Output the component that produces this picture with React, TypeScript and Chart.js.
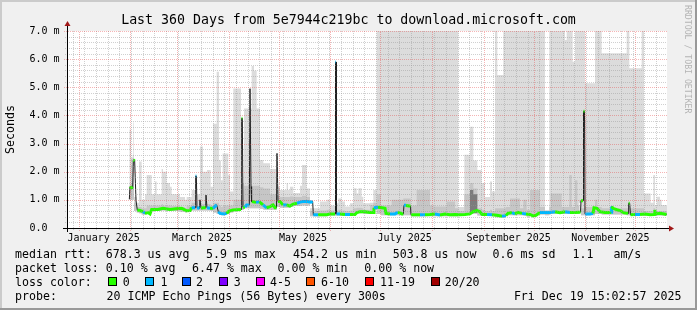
import React, { useEffect, useRef } from 'react';
import { Chart, registerables } from 'chart.js';

Chart.register(...registerables);

const FONT = '"DejaVu Sans Mono", "Liberation Mono", monospace';

const titleText = 'Last 360 Days from 5e7944c219bc to download.microsoft.com';
const yAxisTitle = 'Seconds';
const watermark = 'RRDTOOL / TOBI OETIKER';

// x axis: days since graph start (Dec 24 2024 15:02), 0..360
const monthStartDays = [6.9, 37.9, 65.9, 96.9, 126.9, 157.9, 187.9, 218.9, 249.9, 279.9, 310.9, 340.9];
const weekGridStart = 3.4;
const monthLabelDays = [22.0, 81.0, 141.6, 202.6, 265.0, 326.0];
const monthLabels = ['January 2025', 'March 2025', 'May 2025', 'July 2025', 'September 2025', 'November 2025'];
const yTickValues = [0, 1, 2, 3, 4, 5, 6, 7];
const yTickLabels = ['0.0  ', '1.0 m', '2.0 m', '3.0 m', '4.0 m', '5.0 m', '6.0 m', '7.0 m'];

// median rtt (ms) and loss class per sample
const medDays = [
  37.4, 37.8, 39.4, 39.8, 40.6, 41.4, 41.8, 42.2, 43.8, 45.6,
  46.8, 48.6, 49.8, 50.8, 54.6, 57.6, 61.8, 65.4, 68.8, 71.8,
  73.8, 74.8, 76.8, 77.2, 77.6, 78.0, 79.5, 79.8, 80.1, 80.4,
  81.6, 83.2, 83.4, 83.8, 84.0, 85.8, 87.6, 89.8, 90.8, 91.8,
  94.2, 95.8, 97.2, 99.6, 104.4, 104.8, 105.2, 105.6, 106.8, 107.8,
  109.4, 109.8, 110.1, 110.4, 110.6, 110.9, 113.4, 115.4, 116.4, 117.6,
  119.8, 121.8, 123.6, 124.8, 125.7, 126.0, 126.3, 126.6, 127.8, 129.6,
  131.8, 133.8, 135.6, 138.0, 139.8, 141.6, 144.0, 146.4, 147.4, 147.8,
  150.6, 153.0, 156.0, 157.8, 160.8, 161.1, 161.4, 161.7, 163.8, 166.8,
  169.8, 172.8, 174.0, 175.8, 178.8, 181.8, 183.8, 184.2, 186.6, 189.0,
  190.8, 191.4, 193.8, 196.8, 198.6, 201.0, 201.8, 202.2, 203.4, 205.2,
  206.1, 206.4, 208.8, 211.8, 214.8, 217.8, 220.8, 223.8, 226.8, 229.8,
  232.8, 235.8, 238.8, 241.8, 243.6, 246.0, 247.8, 249.0, 252.0, 255.0,
  258.0, 261.0, 263.4, 264.6, 267.0, 268.8, 270.6, 273.0, 275.4, 277.8,
  279.6, 281.4, 283.8, 286.8, 289.8, 292.8, 295.8, 298.8, 301.8, 304.8,
  307.2, 308.1, 308.4, 309.6, 309.9, 310.5, 310.8, 313.8, 315.6, 316.2,
  318.0, 319.8, 322.8, 325.8, 326.6, 326.8, 327.6, 330.0, 331.8, 334.2,
  336.6, 337.0, 337.6, 338.1, 340.8, 343.8, 346.8, 349.8, 352.2, 352.7,
  353.1, 355.8, 358.2, 359.7,
];
const medVals = [
  1.02, 1.47, 1.40, 2.42, 2.39, 0.97, 0.97, 0.64, 0.62, 0.58,
  0.52, 0.55, 0.50, 0.66, 0.66, 0.70, 0.66, 0.68, 0.70, 0.61,
  0.62, 0.72, 0.72, 1.85, 1.85, 0.72, 0.70, 1.00, 1.00, 0.70,
  0.72, 0.72, 1.17, 1.17, 0.72, 0.70, 0.70, 0.82, 0.58, 0.52,
  0.50, 0.52, 0.60, 0.64, 0.66, 3.90, 3.90, 0.74, 0.74, 0.82,
  0.82, 4.95, 4.95, 1.47, 1.47, 0.94, 0.91, 0.93, 0.88, 0.82,
  0.72, 0.76, 0.82, 0.72, 0.72, 2.65, 2.65, 0.94, 0.94, 0.82,
  0.82, 0.78, 0.85, 0.88, 0.92, 0.94, 0.94, 0.92, 0.94, 0.47,
  0.47, 0.47, 0.47, 0.50, 0.50, 5.90, 5.90, 0.50, 0.50, 0.48,
  0.48, 0.48, 0.55, 0.58, 0.58, 0.55, 0.55, 0.72, 0.74, 0.72,
  0.70, 0.52, 0.50, 0.50, 0.56, 0.50, 0.50, 0.82, 0.80, 0.78,
  0.78, 0.47, 0.47, 0.47, 0.47, 0.48, 0.50, 0.46, 0.50, 0.47,
  0.48, 0.47, 0.48, 0.50, 0.58, 0.62, 0.58, 0.48, 0.48, 0.47,
  0.45, 0.42, 0.44, 0.52, 0.55, 0.50, 0.56, 0.52, 0.50, 0.48,
  0.43, 0.45, 0.55, 0.55, 0.55, 0.58, 0.54, 0.58, 0.55, 0.55,
  0.56, 0.56, 0.97, 0.97, 4.15, 4.15, 0.50, 0.50, 0.52, 0.72,
  0.70, 0.58, 0.55, 0.55, 0.56, 0.76, 0.70, 0.65, 0.62, 0.54,
  0.52, 0.88, 0.88, 0.47, 0.48, 0.48, 0.50, 0.47, 0.48, 0.64,
  0.50, 0.52, 0.50, 0.48,
];
const medLoss = [
  0, 0, 0, 0, 0, 0, 0, 0, 0, 0,
  1, 0, 0, 0, 0, 0, 0, 0, 0, 0,
  0, 0, 1, 1, 1, 1, 1, 0, 0, 0,
  0, 0, 0, 0, 1, 1, 0, 1, 1, 1,
  1, 1, 0, 0, 0, 0, 0, 0, 0, 1,
  1, 0, 0, 0, 0, 0, 0, 1, 0, 0,
  1, 0, 0, 0, 0, 1, 1, 0, 0, 0,
  1, 0, 0, 0, 1, 1, 1, 1, 1, 1,
  1, 0, 0, 0, 0, 1, 1, 1, 1, 0,
  1, 0, 0, 0, 0, 0, 0, 0, 1, 0,
  0, 0, 0, 1, 1, 0, 0, 0, 1, 0,
  0, 1, 0, 0, 1, 0, 0, 1, 0, 0,
  0, 0, 0, 0, 0, 0, 0, 0, 0, 1,
  0, 0, 1, 0, 0, 1, 0, 0, 1, 0,
  0, 0, 0, 1, 1, 1, 0, 0, 1, 0,
  0, 0, 0, 0, 0, 0, 1, 1, 1, 0,
  0, 0, 0, 0, 0, 1, 0, 0, 0, 0,
  0, 0, 0, 0, 0, 1, 0, 0, 0, 0,
  0, 0, 0, 0,
];

// smoke (spread of the 20 pings): bottom, dense middle and top, in ms
const smokeDays = [
  37.4, 38.4, 39.4, 39.8, 40.2, 41.8, 43.2, 44.8, 46.8, 47.8,
  50.8, 52.8, 53.8, 56.8, 57.6, 59.8, 61.8, 62.8, 67.8, 70.8,
  71.8, 74.8, 76.8, 77.8, 79.8, 81.6, 84.0, 86.2, 87.6, 89.8,
  91.2, 92.4, 93.4, 96.8, 97.8, 99.8, 104.4, 106.2, 110.8, 112.2,
  113.8, 115.8, 117.8, 121.8, 125.8, 127.8, 131.8, 132.6, 133.8, 135.8,
  139.8, 141.0, 143.8, 145.8, 147.8, 151.8, 155.8, 157.8, 160.8, 162.8,
  164.8, 166.8, 169.8, 171.8, 173.8, 174.8, 176.8, 177.8, 181.8, 183.8,
  185.8, 188.4, 194.8, 201.8, 206.2, 209.8, 217.8, 219.8, 227.8, 232.8,
  234.8, 238.4, 241.8, 243.8, 246.2, 248.8, 250.8, 253.8, 255.0, 256.8,
  258.2, 261.8, 263.2, 265.8, 271.8, 273.8, 275.8, 277.8, 283.8, 286.8,
  289.4, 290.2, 296.8, 298.8, 299.8, 301.4, 302.8, 303.4, 304.8, 306.2,
  307.4, 308.4, 310.8, 316.8, 318.2, 320.8, 335.8, 337.4, 344.8, 346.2,
  350.2, 351.8, 352.8, 353.8, 355.8, 356.8, 358.8, 360.0,
];
const smokeLo = [
  0.95, 1.00, 1.00, 1.00, 1.00, 0.60, 0.55, 0.52, 0.48, 0.48,
  0.60, 0.60, 0.60, 0.60, 0.62, 0.62, 0.60, 0.60, 0.60, 0.58,
  0.55, 0.62, 0.62, 0.62, 0.62, 0.62, 0.62, 0.62, 0.60, 0.55,
  0.50, 0.48, 0.45, 0.50, 0.50, 0.55, 0.60, 0.65, 0.70, 0.70,
  0.70, 0.70, 0.68, 0.65, 0.65, 0.75, 0.72, 0.72, 0.72, 0.75,
  0.78, 0.78, 0.80, 0.80, 0.42, 0.42, 0.42, 0.44, 0.44, 0.44,
  0.44, 0.43, 0.43, 0.43, 0.50, 0.52, 0.52, 0.52, 0.50, 0.60,
  0.65, 0.50, 0.45, 0.45, 0.45, 0.42, 0.42, 0.42, 0.42, 0.42,
  0.42, 0.43, 0.50, 0.52, 0.52, 0.44, 0.43, 0.43, 0.43, 0.42,
  0.38, 0.38, 0.38, 0.45, 0.45, 0.45, 0.44, 0.40, 0.48, 0.48,
  0.45, 0.48, 0.50, 0.50, 0.50, 0.50, 0.50, 0.50, 0.50, 0.50,
  0.50, 0.90, 0.45, 0.45, 0.50, 0.50, 0.48, 0.45, 0.45, 0.45,
  0.44, 0.44, 0.44, 0.44, 0.44, 0.44, 0.44, 0.44,
];
const smokeMid = [
  1.10, 1.50, 1.60, 2.50, 2.50, 0.90, 0.75, 0.75, 0.70, 0.70,
  0.80, 0.80, 0.80, 0.80, 0.85, 0.80, 0.80, 0.80, 0.78, 0.75,
  0.70, 0.80, 0.90, 0.85, 0.80, 0.85, 0.85, 0.85, 0.80, 0.90,
  0.90, 0.80, 0.75, 0.80, 0.80, 0.80, 1.00, 0.95, 1.50, 1.50,
  1.50, 1.50, 1.45, 1.40, 1.20, 1.15, 1.10, 1.10, 1.10, 1.12,
  1.10, 1.10, 1.15, 1.10, 0.60, 0.60, 0.62, 0.65, 0.62, 0.62,
  0.65, 0.62, 0.60, 0.62, 0.70, 0.72, 0.72, 0.70, 0.65, 0.82,
  0.90, 1.20, 0.80, 1.00, 1.05, 0.80, 1.35, 0.80, 0.76, 0.94,
  0.70, 0.60, 1.20, 1.60, 1.40, 0.70, 0.65, 0.60, 0.65, 0.60,
  0.70, 0.70, 0.70, 0.75, 1.05, 0.70, 1.00, 0.65, 1.35, 0.75,
  0.60, 0.75, 1.23, 0.75, 0.75, 0.75, 1.88, 0.75, 0.75, 1.70,
  0.80, 1.00, 0.70, 0.75, 1.00, 0.75, 0.70, 0.70, 0.70, 0.70,
  0.60, 0.60, 0.70, 0.60, 0.60, 0.60, 0.60, 0.60,
];
const smokeHi = [
  1.60, 3.50, 2.50, 2.60, 3.75, 1.10, 0.90, 2.36, 1.00, 1.20,
  1.88, 1.20, 1.65, 1.20, 2.10, 2.00, 1.60, 1.47, 1.20, 1.10,
  1.00, 1.10, 1.35, 1.60, 1.20, 2.90, 2.00, 2.06, 1.47, 3.70,
  5.55, 2.40, 1.70, 2.65, 1.88, 1.30, 4.96, 1.60, 4.25, 5.76,
  5.59, 4.25, 2.42, 2.30, 2.10, 1.47, 1.35, 1.59, 1.35, 1.47,
  1.24, 1.50, 2.24, 1.40, 0.70, 0.70, 0.94, 1.00, 0.80, 0.88,
  1.05, 0.94, 0.76, 0.88, 1.41, 1.23, 1.41, 1.11, 0.88, 0.90,
  1.35, 7.50, 7.50, 7.50, 7.50, 7.50, 7.50, 7.50, 7.50, 7.50,
  7.50, 0.75, 2.60, 3.60, 2.40, 2.06, 1.60, 1.10, 1.65, 1.30,
  7.50, 5.44, 7.50, 7.50, 7.50, 7.50, 7.50, 7.50, 7.50, 7.50,
  0.64, 7.50, 7.50, 7.50, 6.68, 7.50, 7.50, 7.50, 5.91, 7.50,
  7.50, 7.50, 7.50, 5.14, 7.50, 7.50, 6.21, 7.50, 5.68, 7.50,
  1.23, 0.90, 1.88, 0.82, 1.11, 1.00, 0.82, 0.82,
];
// dense dark core of the late-August burst
const darkDays = [241.8, 243.8, 246.2, 248.8];
const darkLo = [0.50, 0.52, 0.52, 0.50];
const darkHi = [1.00, 1.35, 1.20, 0.50];

const lossColors = ['#26ff00', '#00b8ff', '#0059ff', '#7e00ff', '#ff00ff', '#ff5500', '#ff0000', '#a10000'];
const lossLabels = ['0', '1', '2', '3', '4-5', '6-10', '11-19', '20/20'];

const medianStats = ['median rtt:  678.3 us avg', '5.9 ms max', '454.2 us min', '503.8 us now', '0.6 ms sd', '1.1', 'am/s'];
const lossStats = ['packet loss: 0.10 % avg', '6.47 % max', '0.00 % min', '0.00 % now'];
const probeText = ['probe:', '20 ICMP Echo Pings (56 Bytes) every 300s'];
const dateText = 'Fri Dec 19 15:02:57 2025';
const lossColorTitle = 'loss color:';

const MINOR = 'rgba(150,150,150,0.45)';
const MAJOR = 'rgba(230,60,60,0.38)';

const decor = {
  id: 'smokepingDecor',
  beforeDraw(chart: any) {
    const { ctx, width, height, chartArea: a } = chart;
    ctx.save();
    ctx.fillStyle = '#f0f0f0';
    ctx.fillRect(0, 0, width, height);
    ctx.fillStyle = '#cbcbcb';
    ctx.fillRect(0, 0, width, 2);
    ctx.fillRect(0, 0, 2, height);
    ctx.fillStyle = '#999999';
    ctx.fillRect(0, height - 2, width, 2);
    ctx.fillRect(width - 2, 0, 2, height);
    ctx.fillStyle = '#ffffff';
    ctx.fillRect(a.left, a.top, a.right - a.left, a.bottom - a.top);
    ctx.restore();
  },
  afterDatasetsDraw(chart: any) {
    const { ctx, chartArea: a, scales } = chart;
    const xs = scales.x;
    const ys = scales.y;
    const L = a.left, R = a.right, T = a.top, B = a.bottom;
    ctx.save();
    ctx.lineWidth = 1;
    ctx.setLineDash([1, 1]);
    ctx.strokeStyle = MINOR;
    ctx.beginPath();
    for (let k = 1; k < 35; k++) {
      if (k % 5 === 0) continue;
      const y = Math.round(ys.getPixelForValue(k / 5)) + 0.5;
      ctx.moveTo(L - 2, y);
      ctx.lineTo(R, y);
    }
    for (let d = weekGridStart; d < 360; d += 7) {
      const x = Math.round(xs.getPixelForValue(d)) + 0.5;
      ctx.moveTo(x, B + 2);
      ctx.lineTo(x, T);
    }
    ctx.stroke();
    ctx.strokeStyle = MAJOR;
    ctx.beginPath();
    for (let v = 1; v <= 7; v++) {
      const y = Math.round(ys.getPixelForValue(v)) + 0.5;
      ctx.moveTo(L - 3, y);
      ctx.lineTo(R, y);
    }
    for (const d of monthStartDays) {
      const x = Math.round(xs.getPixelForValue(d)) + 0.5;
      ctx.moveTo(x, B + 3);
      ctx.lineTo(x, T);
    }
    ctx.stroke();
    ctx.setLineDash([]);
    const ay = Math.round(B) + 0.5;
    const ax = Math.round(L) + 0.5;
    ctx.strokeStyle = '#000000';
    ctx.beginPath();
    ctx.moveTo(L - 4, ay);
    ctx.lineTo(R + 3, ay);
    ctx.moveTo(ax, B + 4);
    ctx.lineTo(ax, T - 6);
    ctx.stroke();
    ctx.fillStyle = '#a01818';
    ctx.beginPath();
    ctx.moveTo(R + 2, ay - 3);
    ctx.lineTo(R + 7, ay);
    ctx.lineTo(R + 2, ay + 3);
    ctx.closePath();
    ctx.fill();
    ctx.beginPath();
    ctx.moveTo(ax - 3, T - 5);
    ctx.lineTo(ax, T - 10);
    ctx.lineTo(ax + 3, T - 5);
    ctx.closePath();
    ctx.fill();
    ctx.restore();
  },
  afterDraw(chart: any) {
    const { ctx } = chart;
    ctx.save();
    ctx.fillStyle = '#000000';
    ctx.font = `13.25px ${FONT}`;
    ctx.textAlign = 'center';
    ctx.textBaseline = 'alphabetic';
    ctx.fillText(titleText, 348.5, 23.5);

    ctx.save();
    ctx.translate(11, 129.5);
    ctx.rotate(-Math.PI / 2);
    ctx.font = `11.6px ${FONT}`;
    ctx.textAlign = 'center';
    ctx.textBaseline = 'middle';
    ctx.fillText(yAxisTitle, 0, 0);
    ctx.restore();

    ctx.save();
    ctx.translate(687.5, 5);
    ctx.rotate(Math.PI / 2);
    ctx.font = `8.2px ${FONT}`;
    ctx.fillStyle = '#b4b4b4';
    ctx.textAlign = 'left';
    ctx.textBaseline = 'middle';
    ctx.fillText(watermark, 0, 0);
    ctx.restore();

    ctx.font = `11.6px ${FONT}`;
    ctx.textAlign = 'left';
    ctx.textBaseline = 'alphabetic';
    const row1X = [15.0, 206.0, 293.0, 392.7, 492.6, 572.6, 613.4];
    medianStats.forEach((s, i) => ctx.fillText(s, row1X[i], 257.5));
    const row2X = [15.0, 192.0, 277.6, 364.3];
    lossStats.forEach((s, i) => ctx.fillText(s, row2X[i], 271.5));
    ctx.fillText(lossColorTitle, 15.0, 285.5);
    const boxX = [108, 145, 182, 219, 256, 306, 365, 431];
    const labX = [122.7, 160.4, 196.1, 233.7, 270.1, 321.1, 380.1, 444.7];
    lossLabels.forEach((lab, i) => {
      ctx.fillStyle = lossColors[i];
      ctx.fillRect(boxX[i], 277, 9, 9);
      ctx.strokeStyle = '#000000';
      ctx.lineWidth = 1;
      ctx.strokeRect(boxX[i] + 0.5, 277.5, 8, 8);
      ctx.fillStyle = '#000000';
      ctx.fillText(lab, labX[i], 285.5);
    });
    ctx.fillText(probeText[0], 15.0, 299.5);
    ctx.fillText(probeText[1], 106.6, 299.5);
    ctx.textAlign = 'right';
    ctx.fillText(dateText, 681.4, 299.5);
    ctx.restore();
  },
};

const toPts = (xs: number[], ys: number[]) => xs.map((x, i) => ({ x, y: ys[i] }));

export default function App() {
  const ref = useRef<HTMLCanvasElement>(null);
  useEffect(() => {
    document.body.style.margin = '0';
    const canvas = ref.current;
    if (!canvas) return;
    const none = 'rgba(0,0,0,0)';
    const area = { pointRadius: 0, pointHoverRadius: 0, tension: 0, borderWidth: 0, borderColor: none, stepped: 'after' as const };
    const chart = new Chart(canvas, {
      type: 'line',
      data: {
        datasets: [
          { ...area, label: 'smoke low', data: toPts(smokeDays, smokeLo), fill: false, order: 20 },
          { ...area, label: 'smoke high', data: toPts(smokeDays, smokeHi), fill: { target: 0 }, backgroundColor: '#dcdcdc', order: 12 },
          { ...area, label: 'smoke mid', data: toPts(smokeDays, smokeMid), fill: { target: 0 }, backgroundColor: '#c6c6c6', order: 11 },
          { ...area, label: 'dark low', data: toPts(darkDays, darkLo), fill: false, order: 20 },
          { ...area, label: 'dark high', data: toPts(darkDays, darkHi), fill: { target: 3 }, backgroundColor: '#7c7c7c', order: 10 },
          {
            label: 'median', data: toPts(medDays, medVals), borderColor: '#202020', borderWidth: 1,
            pointRadius: 0, pointHoverRadius: 0, tension: 0, fill: false, order: 2,
          },
          {
            label: 'median loss', data: toPts(medDays, medVals), borderColor: lossColors[0], borderWidth: 3,
            pointRadius: 0, pointHoverRadius: 0, tension: 0, fill: false, order: 1,
            segment: {
              borderColor: (c: any) => {
                const i0 = c.p0DataIndex;
                const i1 = c.p1DataIndex;
                if (Math.abs(medVals[i1] - medVals[i0]) > 0.2) return none;
                return lossColors[medLoss[i1]];
              },
            },
          },
        ] as any,
      },
      options: {
        animation: false,
        responsive: false,
        devicePixelRatio: 1,
        events: [],
        layout: { padding: { top: 31, right: 30, left: 0, bottom: 0 } },
        plugins: { legend: { display: false }, tooltip: { enabled: false }, title: { display: false } },
        scales: {
          x: {
            type: 'linear', min: 0, max: 360,
            grid: { display: false, drawTicks: false }, border: { display: false },
            afterFit: (s: any) => { s.height = 82; },
            afterBuildTicks: (s: any) => { s.ticks = monthLabelDays.map((v) => ({ value: v })); },
            ticks: {
              autoSkip: false, maxRotation: 0, minRotation: 0, padding: 4, color: '#000000',
              font: { family: FONT, size: 10 },
              callback: (_v: any, i: number) => monthLabels[i],
            },
          },
          y: {
            type: 'linear', min: 0, max: 7,
            grid: { display: false, drawTicks: false }, border: { display: false },
            afterFit: (s: any) => { s.width = 67; },
            afterBuildTicks: (s: any) => { s.ticks = yTickValues.map((v) => ({ value: v })); },
            ticks: {
              padding: 7.5, color: '#000000', font: { family: FONT, size: 10 },
              callback: (_v: any, i: number) => yTickLabels[i],
            },
          },
        },
      } as any,
      plugins: [decor],
    });
    return () => chart.destroy();
  }, []);
  return <canvas ref={ref} width={697} height={310} style={{ display: 'block', width: 697, height: 310 }} />;
}
